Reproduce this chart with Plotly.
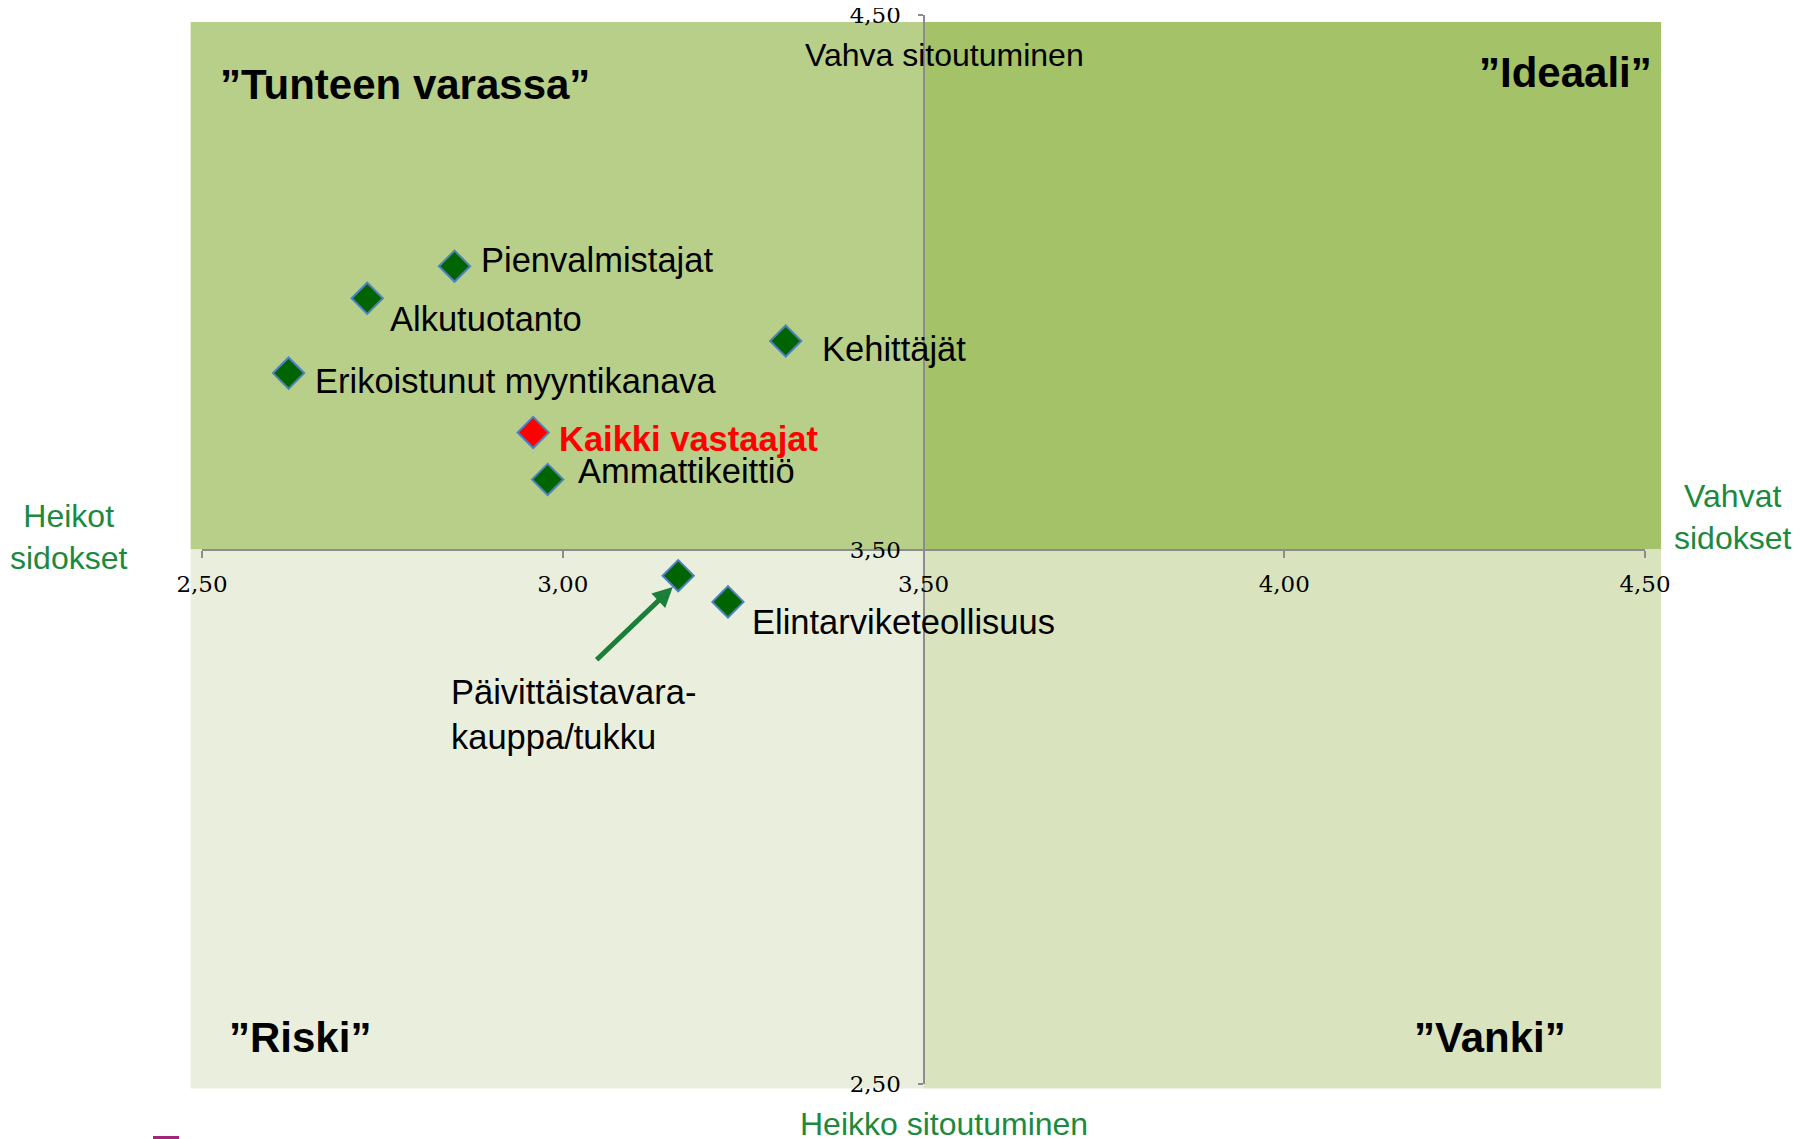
import plotly.graph_objects as go

# ---------------- data ----------------
groups = ["Pienvalmistajat", "Alkutuotanto", "Erikoistunut myyntikanava", "Kehittäjät",
          "Kaikki vastaajat", "Ammattikeittiö", "Päivittäistavara-kauppa/tukku",
          "Elintarviketeollisuus"]
sidokset = [2.850, 2.729, 2.620, 3.309, 2.959, 2.979, 3.160, 3.229]        # x
sitoutuminen = [4.030, 3.970, 3.830, 3.890, 3.719, 3.631, 3.451, 3.402]    # y

x_tickvals = [2.5, 3.0, 3.5, 4.0, 4.5]
x_ticktext = ["2,50", "3,00", "3,50", "4,00", "4,50"]
y_tickvals = [2.5, 3.5, 4.5]
y_ticktext = ["2,50", "3,50", "4,50"]

# ---------------- style ----------------
X_RANGE = [2.5, 4.5]
Y_RANGE = [2.5, 4.5]
GREEN_TXT = "#1b8a3f"
AXIS_GREY = "#8c8c8c"
SANS = "Liberation Sans, Arial, sans-serif"
SERIF = "DejaVu Serif, Liberation Serif, serif"

# page offset (browser body margin) compensation
OFF = 8
PLOT_L, PLOT_T, PLOT_R, PLOT_B = 202, 15, 1645, 1084   # on-screen plot area
W, H = 1812, 1139

label_style = {
    "Pienvalmistajat": dict(dx=24, dy=6),
    "Alkutuotanto": dict(dx=21, dy=-21),
    "Erikoistunut myyntikanava": dict(dx=24, dy=-8),
    "Kehittäjät": dict(dx=34, dy=-8),
    "Kaikki vastaajat": dict(dx=24, dy=-7, color="#ff0000", bold=True),
    "Ammattikeittiö": dict(dx=28, dy=8),
    "Elintarviketeollisuus": dict(dx=22, dy=-20),
}


def px(v):
    return (v - X_RANGE[0]) / (X_RANGE[1] - X_RANGE[0])


def py(v):
    return (v - Y_RANGE[0]) / (Y_RANGE[1] - Y_RANGE[0])


def paper_from_px(xp, yp):
    return (xp - PLOT_L) / (PLOT_R - PLOT_L), (PLOT_B - yp) / (PLOT_B - PLOT_T)


fig = go.Figure()

# quadrant backgrounds (data-space bounds, converted to paper)
qx = [2.4843, 3.5, 4.5223]
qy = [2.4914, 3.5, 4.487]
quad_colors = {(0, 1): "#b8cf8a", (1, 1): "#a4c267", (0, 0): "#eaefdd", (1, 0): "#d9e4bf"}
shapes = []
for (i, j), c in quad_colors.items():
    shapes.append(dict(type="rect", xref="paper", yref="paper",
                       x0=px(qx[i]), x1=px(qx[i + 1]), y0=py(qy[j]), y1=py(qy[j + 1]),
                       fillcolor=c, line=dict(width=0), layer="below"))
# small purple mark at the bottom-left edge of the slide
mx0, my0 = paper_from_px(153, 1139)
mx1, my1 = paper_from_px(179, 1136)
shapes.append(dict(type="rect", xref="paper", yref="paper",
                   x0=mx0, x1=mx1, y0=my0, y1=my1,
                   fillcolor="#a3267a", line=dict(width=0), layer="above"))

colors = ["#ff0000" if g == "Kaikki vastaajat" else "#006400" for g in groups]
fig.add_trace(go.Scatter(
    x=sidokset, y=sitoutuminen, mode="markers",
    marker=dict(symbol="diamond", size=24, color=colors,
                line=dict(color="#4f81bd", width=2)),
    hovertext=groups, hoverinfo="text", showlegend=False, cliponaxis=False))

annotations = []
for g, xv, yv in zip(groups, sidokset, sitoutuminen):
    if g not in label_style:
        continue
    st = label_style[g]
    txt = f"<b>{g}</b>" if st.get("bold") else g
    annotations.append(dict(x=xv, y=yv, xref="x", yref="y", text=txt, showarrow=False,
                            xanchor="left", yanchor="middle", xshift=st["dx"], yshift=st["dy"],
                            font=dict(family=SANS, size=34.5, color=st.get("color", "black"))))

# arrow + text for Päivittäistavara
annotations.append(dict(x=3.1525, y=3.4298, ax=3.0449, ay=3.291, xref="x", yref="y",
                        axref="x", ayref="y", text="", showarrow=True, arrowhead=2,
                        arrowsize=0.8, arrowwidth=5, arrowcolor="#1b7f3a"))
tx, ty = paper_from_px(449, 714)
annotations.append(dict(x=tx, y=ty, xref="paper", yref="paper",
                        text="Päivittäistavara-<br>kauppa/tukku", showarrow=False,
                        xanchor="left", yanchor="middle", align="left",
                        font=dict(family=SANS, size=34.5, color="black")))

# quadrant titles
for text, xp, yp, anchor in [("”Tunteen varassa”", 218, 84, "left"),
                             ("”Ideaali”", 1654, 73, "right"),
                             ("”Riski”", 227, 1037, "left"),
                             ("”Vanki”", 1568, 1037, "right")]:
    xx, yy = paper_from_px(xp, yp)
    annotations.append(dict(x=xx, y=yy, xref="paper", yref="paper", text=f"<b>{text}</b>",
                            showarrow=False, xanchor=anchor, yanchor="middle",
                            font=dict(family=SANS, size=42, color="black")))

# axis descriptors
for text, xp, yp, col in [("Vahva sitoutuminen", 944, 55, "black"),
                          ("Heikko sitoutuminen", 944, 1124, GREEN_TXT),
                          ("Heikot<br>sidokset", 69, 537, GREEN_TXT),
                          ("Vahvat<br>sidokset", 1733, 517, GREEN_TXT)]:
    xx, yy = paper_from_px(xp, yp)
    annotations.append(dict(x=xx, y=yy, xref="paper", yref="paper", text=text,
                            showarrow=False, xanchor="center", yanchor="middle",
                            align="center",
                            font=dict(family=SANS, size=32, color=col)))

axis_common = dict(showgrid=False, zeroline=False, showline=True, linecolor=AXIS_GREY,
                   linewidth=2, ticks="outside", tickcolor=AXIS_GREY, tickwidth=2,
                   tickfont=dict(family=SERIF, size=23, color="black"),
                   anchor="free", position=0.5, fixedrange=True, automargin=False,
                   ticklabeloverflow="allow")

fig.update_layout(
    width=W, height=H,
    margin=dict(l=PLOT_L - OFF, r=W - (PLOT_R - OFF), t=PLOT_T - OFF, b=H - (PLOT_B - OFF),
                autoexpand=False),
    paper_bgcolor="white", plot_bgcolor="rgba(0,0,0,0)",
    xaxis=dict(range=X_RANGE, tickvals=x_tickvals, ticktext=x_ticktext, ticklen=7,
               ticklabelstandoff=7, **axis_common),
    yaxis=dict(range=Y_RANGE, tickvals=y_tickvals, ticktext=y_ticktext, ticklen=5,
               ticklabelstandoff=12, **axis_common),
    shapes=shapes, annotations=annotations, showlegend=False,
)

fig.write_html("out.html")
